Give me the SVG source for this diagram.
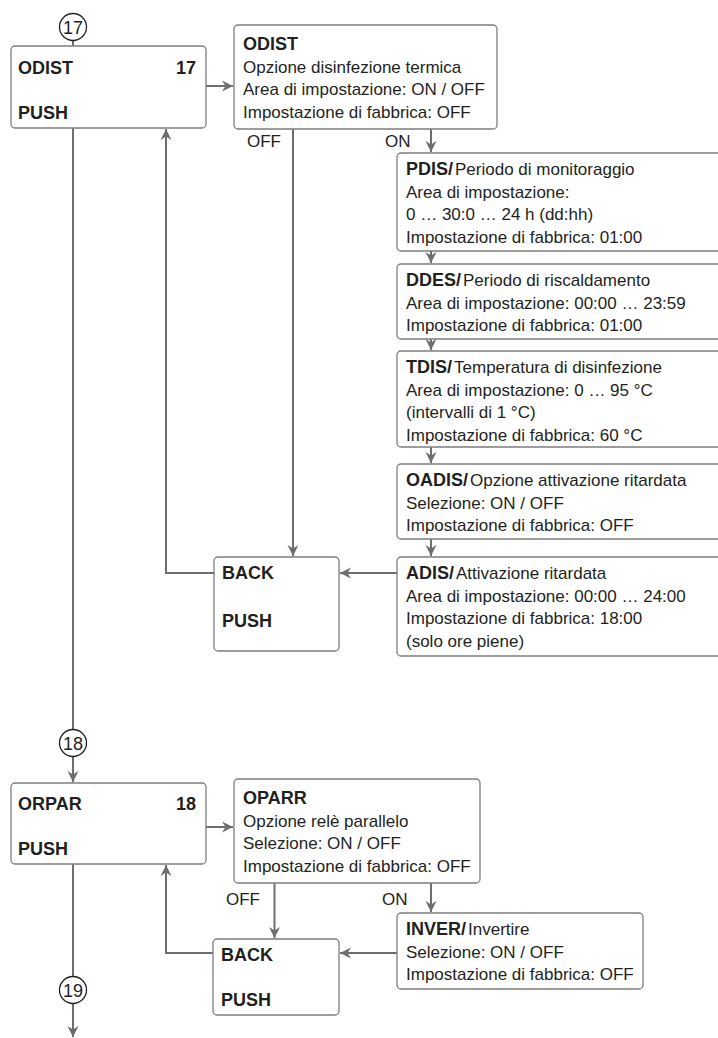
<svg xmlns="http://www.w3.org/2000/svg" width="718" height="1038" viewBox="0 0 718 1038">
<defs>
<style>
.box{fill:#fff;stroke:#7d7e80;stroke-width:1.3}
.conn{fill:none;stroke:#6d6e71;stroke-width:2}
.blk{fill:none;stroke:#231f20;stroke-width:1.3}
.circ{fill:#fff;stroke:#231f20;stroke-width:1.3}
text{font-family:"Liberation Sans",Arial,sans-serif;font-size:17px;fill:#231f20}
.b{font-weight:bold;font-size:18px}
.c{font-size:18px;text-anchor:middle}
.r{text-anchor:end}
</style>
<marker id="ah" markerWidth="12" markerHeight="12" refX="11" refY="6" orient="auto" markerUnits="userSpaceOnUse">
<path d="M0,0.5 L11,6 L0,11.5 L3.5,6 z" fill="#6d6e71"/>
</marker>
</defs>
<rect width="718" height="1038" fill="#fff"/>

<g id="connectors">
<path class="blk" d="M73,40.5 V46"/>
<path class="conn" d="M206,86 H233" marker-end="url(#ah)"/>
<path class="conn" d="M293,129 V556" marker-end="url(#ah)"/>
<path class="conn" d="M431,129 V152" marker-end="url(#ah)"/>
<path class="conn" d="M431,251 V263" marker-end="url(#ah)"/>
<path class="conn" d="M431,339 V350" marker-end="url(#ah)"/>
<path class="conn" d="M431,447 V463" marker-end="url(#ah)"/>
<path class="conn" d="M431,539 V556" marker-end="url(#ah)"/>
<path class="conn" d="M397,573 H340" marker-end="url(#ah)"/>
<path class="conn" d="M214,573 H166 V129" marker-end="url(#ah)"/>
<path class="conn" d="M73,128 V729.5"/>
<path class="conn" d="M73,756.5 V782" marker-end="url(#ah)"/>
<path class="conn" d="M206,827 H233" marker-end="url(#ah)"/>
<path class="conn" d="M274.5,883 V938" marker-end="url(#ah)"/>
<path class="conn" d="M431,883 V912" marker-end="url(#ah)"/>
<path class="conn" d="M397,953 H340" marker-end="url(#ah)"/>
<path class="conn" d="M213,953 H166 V865" marker-end="url(#ah)"/>
<path class="conn" d="M73,864 V976.5"/>
<path class="conn" d="M73,1003.5 V1037" marker-end="url(#ah)"/>
</g>

<g id="c17"><circle class="circ" cx="73" cy="27" r="13.5"/><text class="c" x="73" y="33.5">17</text></g>
<g id="c18"><circle class="circ" cx="73" cy="743" r="13.5"/><text class="c" x="73" y="749.5">18</text></g>
<g id="c19"><circle class="circ" cx="73" cy="990" r="13.5"/><text class="c" x="73" y="996.5">19</text></g>

<g id="odist-main">
<rect class="box" x="11" y="46" width="195" height="82" rx="4"/>
<text class="b" x="18" y="74">ODIST</text>
<text class="b r" x="196" y="74">17</text>
<text class="b" x="18" y="119">PUSH</text>
</g>

<g id="odist-detail">
<rect class="box" x="234" y="25" width="263" height="104" rx="4"/>
<text class="b" x="243" y="50">ODIST</text>
<text x="243" y="72.5">Opzione disinfezione termica</text>
<text x="243" y="95">Area di impostazione: ON / OFF</text>
<text x="243" y="117.5">Impostazione di fabbrica: OFF</text>
</g>

<g id="labels1">
<text x="247" y="147">OFF</text>
<text x="385" y="147">ON</text>
</g>

<g id="pdis">
<rect class="box" x="397" y="153" width="340" height="98" rx="4"/>
<text x="406" y="175"><tspan class="b">PDIS/</tspan><tspan dx="2">Periodo di monitoraggio</tspan></text>
<text x="406" y="197.5">Area di impostazione:</text>
<text x="406" y="220">0 … 30:0 … 24 h (dd:hh)</text>
<text x="406" y="242.5">Impostazione di fabbrica: 01:00</text>
</g>

<g id="ddes">
<rect class="box" x="397" y="264" width="340" height="75" rx="4"/>
<text x="406" y="286"><tspan class="b">DDES/</tspan><tspan dx="2">Periodo di riscaldamento</tspan></text>
<text x="406" y="308.5">Area di impostazione: 00:00 … 23:59</text>
<text x="406" y="331">Impostazione di fabbrica: 01:00</text>
</g>

<g id="tdis">
<rect class="box" x="397" y="351" width="340" height="96" rx="4"/>
<text x="406" y="373"><tspan class="b">TDIS/</tspan><tspan dx="2">Temperatura di disinfezione</tspan></text>
<text x="406" y="395.5">Area di impostazione: 0 … 95 °C</text>
<text x="406" y="418">(intervalli di 1 °C)</text>
<text x="406" y="440.5">Impostazione di fabbrica: 60 °C</text>
</g>

<g id="oadis">
<rect class="box" x="397" y="464" width="340" height="75" rx="4"/>
<text x="406" y="486"><tspan class="b">OADIS/</tspan><tspan dx="2">Opzione attivazione ritardata</tspan></text>
<text x="406" y="508.5">Selezione: ON / OFF</text>
<text x="406" y="531">Impostazione di fabbrica: OFF</text>
</g>

<g id="adis">
<rect class="box" x="397" y="557" width="340" height="99" rx="4"/>
<text x="406" y="579"><tspan class="b">ADIS/</tspan><tspan dx="2">Attivazione ritardata</tspan></text>
<text x="406" y="601.5">Area di impostazione: 00:00 … 24:00</text>
<text x="406" y="624">Impostazione di fabbrica: 18:00</text>
<text x="406" y="646.5">(solo ore piene)</text>
</g>

<g id="back1">
<rect class="box" x="214" y="557" width="125" height="94" rx="4"/>
<text class="b" x="222" y="579">BACK</text>
<text class="b" x="222" y="627">PUSH</text>
</g>

<g id="orpar-main">
<rect class="box" x="11" y="783" width="195" height="81" rx="4"/>
<text class="b" x="18" y="810">ORPAR</text>
<text class="b r" x="196" y="810">18</text>
<text class="b" x="18" y="855">PUSH</text>
</g>

<g id="oparr">
<rect class="box" x="234" y="779" width="246" height="104" rx="4"/>
<text class="b" x="243" y="804">OPARR</text>
<text x="243" y="826.5">Opzione relè parallelo</text>
<text x="243" y="849">Selezione: ON / OFF</text>
<text x="243" y="871.5">Impostazione di fabbrica: OFF</text>
</g>

<g id="labels2">
<text x="226" y="905">OFF</text>
<text x="382" y="905">ON</text>
</g>

<g id="inver">
<rect class="box" x="397" y="913" width="246" height="76" rx="4"/>
<text x="406" y="935"><tspan class="b">INVER/</tspan><tspan dx="2">Invertire</tspan></text>
<text x="406" y="957.5">Selezione: ON / OFF</text>
<text x="406" y="980">Impostazione di fabbrica: OFF</text>
</g>

<g id="back2">
<rect class="box" x="213" y="939" width="126" height="76" rx="4"/>
<text class="b" x="221" y="961">BACK</text>
<text class="b" x="221" y="1006">PUSH</text>
</g>
</svg>
